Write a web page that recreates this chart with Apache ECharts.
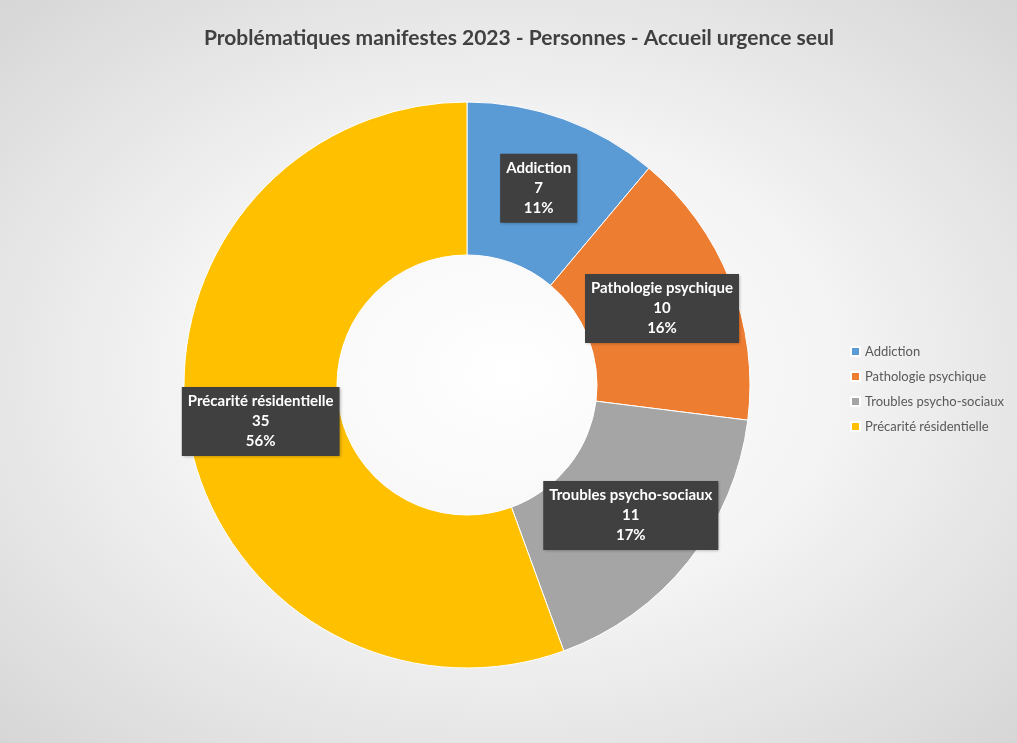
<!DOCTYPE html>
<html>
<head>
<meta charset="utf-8">
<script src="https://cdn.jsdelivr.net/npm/echarts@6/dist/echarts.min.js"></script>
<style>
  html, body { margin: 0; padding: 0; }
  #chart {
    width: 1017px;
    height: 743px;
    background: radial-gradient(ellipse at 50% 50%, #ffffff 0%, #f4f4f4 45%, #d6d6d6 100%);
  }
</style>
</head>
<body>
<div id="chart"></div>
<script>
const categories = ['Addiction', 'Pathologie psychique', 'Troubles psycho-sociaux', 'Précarité résidentielle'];
const values = [7, 10, 11, 35];
const colors = ['#5B9BD5', '#ED7D31', '#A5A5A5', '#FFC000'];

const chart = echarts.init(document.getElementById('chart'));
chart.setOption({
  textStyle: { fontFamily: 'Lato' },
  title: {
    text: 'Problématiques manifestes 2023 - Personnes - Accueil urgence seul',
    left: 514,
    textAlign: 'center',
    top: 23,
    textStyle: { fontSize: 21, fontWeight: 'bold', color: '#404040', fontFamily: 'Lato' },
  },
  legend: {
    orient: 'vertical',
    left: 845,
    top: 340,
    itemWidth: 9,
    itemHeight: 9,
    itemGap: 12,
    icon: 'rect',
    data: categories,
    textStyle: { fontSize: 13, color: '#595959', fontFamily: 'Lato' },
  },
  series: [
    {
      name: 'Problématiques',
      type: 'pie',
      center: [467, 385],
      radius: [130, 283],
      startAngle: 90,
      clockwise: true,
      percentPrecision: 0,
      avoidLabelOverlap: false,
      itemStyle: { borderColor: '#ffffff', borderWidth: 1 },
      label: {
        show: true,
        position: 'inside',
        formatter: '{b}\n{c}\n{d}%',
        color: '#ffffff',
        fontWeight: 'bold',
        fontSize: 15,
        lineHeight: 20,
        fontFamily: 'Lato',
        backgroundColor: '#404040',
        padding: [5, 6, 4, 6],
        shadowColor: 'rgba(0,0,0,0.3)',
        shadowBlur: 3,
        shadowOffsetX: 1,
        shadowOffsetY: 1,
      },
      labelLine: { show: false },
      data: categories.map((name, i) => ({
        name: name,
        value: values[i],
        itemStyle: { color: colors[i] },
      })),
    },
  ],
});
</script>
</body>
</html>
